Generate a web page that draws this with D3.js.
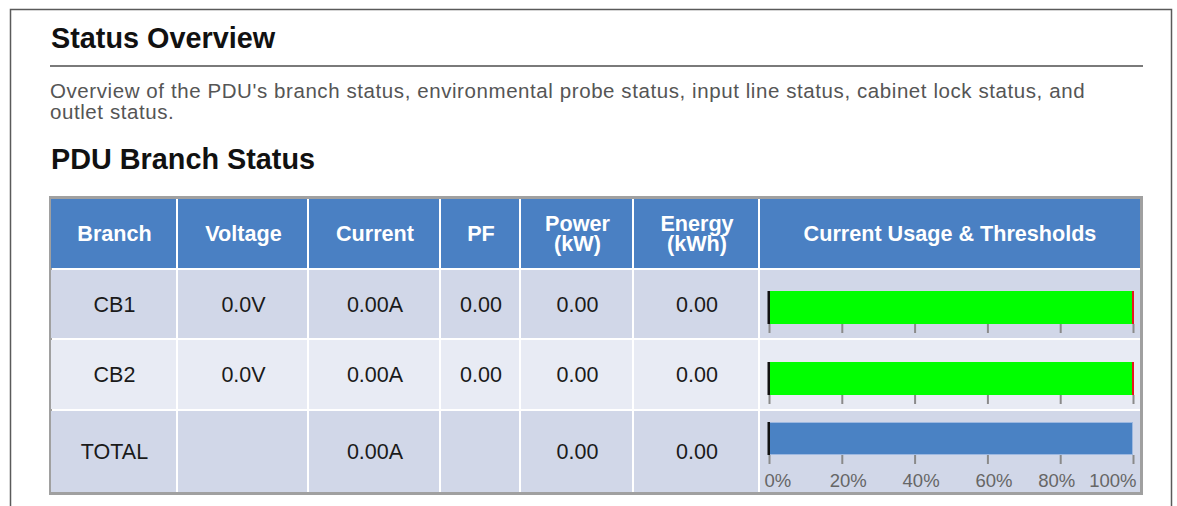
<!DOCTYPE html>
<html>
  <head>
    <script src="https://d3js.org/d3.v7.min.js" charset="utf-8"></script>
    <meta charset="UTF-8">
    <title>PDU status overview</title>
    <style>
      body { margin: 0; background: #fff; }
      svg { display: block; font-family: "Liberation Sans", Arial, sans-serif; }
    </style>
  </head>
  <body>
    <svg class="chart"></svg>
    <script type="text/javascript">

      // table content
      var headers = [["Branch"], ["Voltage"], ["Current"], ["PF"], ["Power", "(kW)"], ["Energy", "(kWh)"], ["Current Usage & Thresholds"]];
      var branches = ["CB1", "CB2", "TOTAL"];
      var voltage  = ["0.0V", "0.0V", ""];
      var current  = ["0.00A", "0.00A", "0.00A"];
      var pf       = ["0.00", "0.00", ""];
      var power    = ["0.00", "0.00", "0.00"];
      var energy   = ["0.00", "0.00", "0.00"];

      // usage bars (percent of rating)
      var usage     = [0, 0, 0];
      var normalMax = [100, 100, null];   // green range
      var overload  = [100, 100, null];   // red threshold marker
      var totalMax  = [null, null, 100];  // blue total bar
      var tickValues = [0, 20, 40, 60, 80, 100];

      var description = ["Overview of the PDU's branch status, environmental probe status, input line status, cabinet lock status, and",
                         "outlet status."];

      var width = 1177,
          height = 506;

      var tableLeft = 51, tableTop = 199;
      var colWidths = [127, 131, 132, 80, 113, 126, 380];
      var rowHeights = [71, 70, 71, 81];

      var colEdges = [tableLeft];
      colWidths.forEach(function(w, i) { colEdges.push(colEdges[i] + w); });
      var rowEdges = [tableTop];
      rowHeights.forEach(function(h, i) { rowEdges.push(rowEdges[i] + h); });

      var chart = d3.select(".chart")
          .attr("width", width)
          .attr("height", height);

      // outer frame
      chart.append("rect")
          .attr("x", 10.5).attr("y", 9.5)
          .attr("width", 1161).attr("height", 600)
          .attr("fill", "none")
          .attr("stroke", "#5a5a5a")
          .attr("stroke-width", 1.5);

      chart.append("text")
          .attr("x", 51).attr("y", 48)
          .attr("font-size", 28.8).attr("font-weight", "bold")
          .attr("fill", "#111")
          .text("Status Overview");

      chart.append("line")
          .attr("x1", 50).attr("x2", 1143)
          .attr("y1", 66).attr("y2", 66)
          .attr("stroke", "#7a7a7a").attr("stroke-width", 2);

      chart.append("g").selectAll("text")
          .data(description)
          .enter().append("text")
          .attr("x", 50)
          .attr("y", function(d, i) { return 98 + i * 21; })
          .attr("font-size", 20.5)
          .attr("letter-spacing", 0.58)
          .attr("fill", "#555")
          .text(function(d) { return d; });

      chart.append("text")
          .attr("x", 51).attr("y", 169)
          .attr("font-size", 28.8).attr("font-weight", "bold")
          .attr("fill", "#111")
          .text("PDU Branch Status");

      // table
      var table = chart.append("g").attr("class", "table");

      table.append("rect")
          .attr("x", 50.5).attr("y", 197.5)
          .attr("width", 1091).attr("height", 296)
          .attr("fill", "#fff")
          .attr("stroke", "#a0a0a0")
          .attr("stroke-width", 3);

      var rows = [headers].concat(branches.map(function(b, i) {
        return [b, voltage[i], current[i], pf[i], power[i], energy[i], ""];
      }));

      var rowFill = ["#4a80c3", "#d1d7e8", "#e8ebf4", "#d1d7e8"];

      var rowG = table.selectAll("g.row")
          .data(rows)
          .enter().append("g")
          .attr("class", "row");

      rowG.each(function(row, r) {
        var g = d3.select(this);
        var h = rowHeights[r] - (r < rowHeights.length - 1 ? 2 : 0);
        g.selectAll("rect")
            .data(row)
            .enter().append("rect")
            .attr("x", function(d, c) { return colEdges[c]; })
            .attr("y", rowEdges[r])
            .attr("width", function(d, c) { return colWidths[c] - (c < colWidths.length - 1 ? 2 : 0); })
            .attr("height", h)
            .attr("fill", rowFill[r]);

        var cy = rowEdges[r] + h / 2;
        g.selectAll("text")
            .data(row)
            .enter().append("text")
            .attr("x", function(d, c) { return colEdges[c] + colWidths[c] / 2; })
            .attr("text-anchor", "middle")
            .attr("font-size", r === 0 ? 21.6 : 21.5)
            .attr("font-weight", r === 0 ? "bold" : "normal")
            .attr("fill", r === 0 ? "#fff" : "#1a1a1a")
            .each(function(d) {
              var lines = Array.isArray(d) ? d : [d];
              var t = d3.select(this);
              lines.forEach(function(line, k) {
                t.append("tspan")
                    .attr("x", t.attr("x"))
                    .attr("y", cy + 7.5 + (k - (lines.length - 1) / 2) * 20.5)
                    .text(line);
              });
            });
      });

      // usage bars
      var x = d3.scaleLinear().domain([0, 100]).range([769, 1133]);
      var barHeight = 33;

      branches.forEach(function(b, i) {
        var r = i + 1;
        var bottom = rowEdges[r] + rowHeights[r] - 2;
        var isTotal = totalMax[i] !== null;
        var y0 = bottom - (isTotal ? 35 : 14) - barHeight;
        var g = chart.append("g").attr("class", "usage");

        var axis = d3.axisBottom(x)
            .tickValues(tickValues)
            .tickSize(9)
            .tickFormat(isTotal ? function(d) { return d + "%"; } : "");

        var ag = g.append("g")
            .attr("transform", "translate(0," + (y0 + barHeight) + ")")
            .call(axis);
        ag.select(".domain").remove();
        ag.selectAll(".tick line").attr("stroke", "#8a8a8a").attr("stroke-width", 2);
        ag.selectAll(".tick text")
            .attr("font-family", "Liberation Sans, Arial, sans-serif")
            .attr("font-size", 18.5)
            .attr("fill", "#666")
            .attr("y", 19)
            .attr("text-anchor", function(d, k) { return k === 0 ? "start" : (k === tickValues.length - 1 ? "end" : "middle"); })
            .attr("dx", function(d, k) { return k === 0 ? -5 : (k === tickValues.length - 1 ? 3 : (k < 4 ? 6 : -4)); });

        if (isTotal) {
          g.append("rect")
              .attr("x", x(0) - 0.5).attr("y", y0 + 0.5)
              .attr("width", x(totalMax[i]) - x(0)).attr("height", barHeight - 1)
              .attr("fill", "#4a82c4")
              .attr("stroke", "#9db8e0").attr("stroke-width", 1);
        } else {
          g.append("rect")
              .attr("x", x(0) - 1).attr("y", y0)
              .attr("width", x(normalMax[i]) - x(0) + 2).attr("height", barHeight)
              .attr("fill", "#00ff00");
          g.append("rect")
              .attr("x", x(overload[i]) - 1).attr("y", y0)
              .attr("width", 2).attr("height", barHeight)
              .attr("fill", "#e8141c");
        }

        g.append("rect")
            .attr("x", x(usage[i]) - 1.5).attr("y", y0)
            .attr("width", 2.5).attr("height", barHeight)
            .attr("fill", "#111");
      });

    </script>
  </body>
</html>
